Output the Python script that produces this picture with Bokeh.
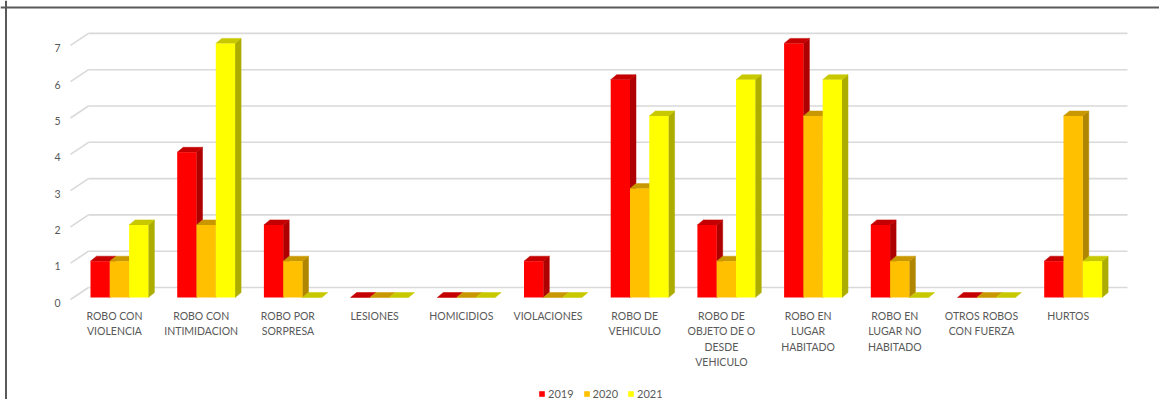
from bokeh.plotting import figure
from bokeh.models import Range1d, Legend, LegendItem, Span
from bokeh.core.properties import value
from bokeh.embed import file_html
from bokeh.resources import INLINE

# ---------------- data ----------------
categories = [
    "ROBO CON\nVIOLENCIA",
    "ROBO CON\nINTIMIDACION",
    "ROBO POR\nSORPRESA",
    "LESIONES",
    "HOMICIDIOS",
    "VIOLACIONES",
    "ROBO DE\nVEHICULO",
    "ROBO DE\nOBJETO DE O\nDESDE\nVEHICULO",
    "ROBO EN\nLUGAR\nHABITADO",
    "ROBO EN\nLUGAR NO\nHABITADO",
    "OTROS ROBOS\nCON FUERZA",
    "HURTOS",
]
series_names = ["2019", "2020", "2021"]
values_2019 = [1, 4, 2, 0, 0, 1, 6, 2, 7, 2, 0, 1]
values_2020 = [1, 2, 1, 0, 0, 0, 3, 1, 5, 1, 0, 5]
values_2021 = [2, 7, 0, 0, 0, 0, 5, 6, 6, 0, 0, 1]
y_ticks = [0, 1, 2, 3, 4, 5, 6, 7]

# ---------------- styles ----------------
front_colors = ["#FF0000", "#FFC000", "#FFFF00"]
side_colors = ["#AE0000", "#B08600", "#ADAD00"]
top_colors = ["#C40000", "#C99800", "#C8C800"]
FONT = "Lato"
TXT = "#595959"

W, H = 1159, 399
PX_X = 86.7    # pixels per category
PX_Y = 36.3    # pixels per unit
X0_PX = 114    # pixel (from left) of category 0 centre
Y0_PX = 297    # pixel (from top) of value 0

x_range = Range1d(-X0_PX / PX_X, (W - X0_PX) / PX_X)
y_range = Range1d((Y0_PX - H) / PX_Y, Y0_PX / PX_Y)

p = figure(width=W, height=H, x_range=x_range, y_range=y_range,
           output_backend="svg", toolbar_location=None,
           min_border=0, min_border_left=0, min_border_right=0,
           min_border_top=0, min_border_bottom=0,
           x_axis_type=None, y_axis_type=None)
p.grid.visible = False
p.outline_line_color = None
p.background_fill_color = "white"
p.border_fill_color = "white"

# 3D geometry (in data units derived from pixel sizes)
bar_w = 19.3 / PX_X
bar_off0 = -24.0 / PX_X
depth_dx = 6.0 / PX_X
depth_dy = 5.0 / PX_Y
grid_x0 = -26.0 / PX_X
grid_x1 = (1127.0 - 114.0) / PX_X
diag_x0 = -44.0 / PX_X
back_dy = 10.0 / PX_Y
front_dy = -2.0 / PX_Y

# back-wall gridlines and floor diagonals
p.segment(x0=[grid_x0] * len(y_ticks), y0=[v + back_dy for v in y_ticks],
          x1=[grid_x1] * len(y_ticks), y1=[v + back_dy for v in y_ticks],
          line_color="#D9D9D9", line_width=1.6)
p.segment(x0=[diag_x0] * len(y_ticks), y0=[v + front_dy for v in y_ticks],
          x1=[grid_x0] * len(y_ticks), y1=[v + back_dy for v in y_ticks],
          line_color="#D9D9D9", line_width=1.6)

# bars
all_values = [values_2019, values_2020, values_2021]
legend_items = []
for k, vals in enumerate(all_values):
    lefts = [i + bar_off0 + k * bar_w for i in range(len(categories))]
    rights = [l + bar_w for l in lefts]
    side_xs, side_ys, top_xs, top_ys = [], [], [], []
    for l, r, v in zip(lefts, rights, vals):
        if v > 0:
            side_xs.append([r, r + depth_dx, r + depth_dx, r])
            side_ys.append([0, depth_dy, v + depth_dy, v])
        top_xs.append([l, l + depth_dx, r + depth_dx, r])
        top_ys.append([v, v + depth_dy, v + depth_dy, v])
    if side_xs:
        p.patches(xs=side_xs, ys=side_ys, fill_color=side_colors[k],
                  line_color=side_colors[k], line_width=0.5)
    p.patches(xs=top_xs, ys=top_ys, fill_color=top_colors[k],
              line_color=top_colors[k], line_width=0.5)
    fr = p.quad(left=lefts, right=rights, bottom=[0] * len(vals), top=vals,
                fill_color=front_colors[k], line_color=None)
    legend_items.append(LegendItem(label=series_names[k], renderers=[fr]))

# y tick labels
p.text(x=[diag_x0] * len(y_ticks), y=y_ticks, text=[str(t) for t in y_ticks],
       x_offset=-10, y_offset=5, text_align="right", text_baseline="middle",
       text_font=value(FONT), text_font_size="10.5px", text_color=TXT)

# category labels
p.text(x=list(range(len(categories))), y=[0] * len(categories), text=categories,
       y_offset=12, text_align="center", text_baseline="top",
       text_font=value(FONT), text_font_size="10.5px", text_color=TXT,
       text_line_height=1.3)

legend = Legend(items=legend_items, orientation="horizontal", location=(538, -1),
                glyph_width=7, glyph_height=7, label_standoff=3, spacing=9,
                padding=0, margin=0, label_height=9, label_width=20,
                border_line_color=None, background_fill_alpha=0,
                label_text_font=FONT, label_text_font_size="11px",
                label_text_color=TXT)
p.add_layout(legend)

# chart border (left and top)
p.add_layout(Span(location=(5.5 - X0_PX) / PX_X, dimension="height",
                  line_color="#5A5A5A", line_width=2))
p.add_layout(Span(location=(Y0_PX - 7.0) / PX_Y, dimension="width",
                  line_color="#5A5A5A", line_width=2))

open("out.html", "w").write(file_html(p, INLINE))
